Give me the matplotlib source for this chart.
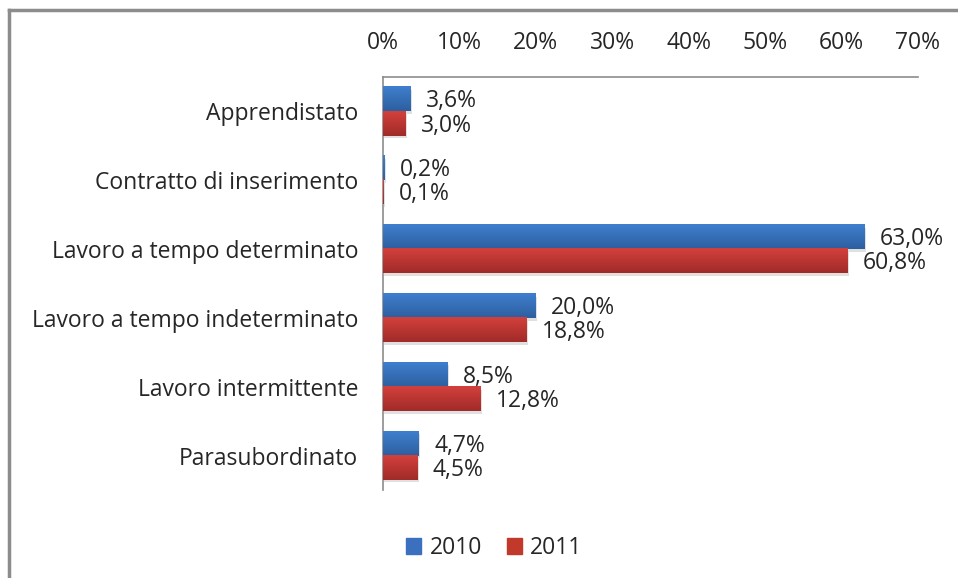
import numpy as np
import matplotlib.pyplot as plt
from matplotlib.colors import LinearSegmentedColormap
from matplotlib.lines import Line2D
from matplotlib.patches import Rectangle

plt.rcParams['font.family'] = ['Open Sans', 'DejaVu Sans']

# data
categorie = ['Apprendistato', 'Contratto di inserimento', 'Lavoro a tempo determinato',
             'Lavoro a tempo indeterminato', 'Lavoro intermittente', 'Parasubordinato']
v2010 = [3.6, 0.2, 63.0, 20.0, 8.5, 4.7]
v2011 = [3.0, 0.1, 60.8, 18.8, 12.8, 4.5]
anni = ['2010', '2011']
xticks = [0, 10, 20, 30, 40, 50, 60, 70]

txt_col = '#262626'
fs = 16.5
blu = LinearSegmentedColormap.from_list('blu', ['#3f7fcf', '#2d5f9f'])
rosso = LinearSegmentedColormap.from_list('rosso', ['#d3403c', '#a02b29'])

fig = plt.figure(figsize=(9.58, 5.78), dpi=100)
ax = fig.add_axes([0.3998, 0.1522, 0.5584, 0.7146])

y = np.arange(len(categorie))
h = 0.35
grad = np.linspace(0, 1, 50).reshape(-1, 1)

def bars(vals, offs, cmap, solid):
    rects = ax.barh(y + offs, vals, height=h, color=solid, zorder=2)
    for r in rects:
        x0, y0 = r.get_x(), r.get_y()
        w, hh = r.get_width(), r.get_height()
        # small drop shadow
        ax.add_patch(Rectangle((x0 + 0.15, y0 + 0.04), w, hh, color='#000000',
                               alpha=0.12, zorder=1, lw=0))
        ax.imshow(grad, extent=[x0, x0 + w, y0 + hh, y0], cmap=cmap,
                  aspect='auto', zorder=3, interpolation='bilinear')
    return rects

b1 = bars(v2010, -h / 2, blu, '#3a70bd')
b2 = bars(v2011, h / 2, rosso, '#c0392b')

for vals, offs in [(v2010, -h / 2), (v2011, h / 2)]:
    for yi, v in zip(y, vals):
        ax.annotate(f'{v:.1f}%'.replace('.', ','), (v, yi + offs + 0.03),
                    xytext=(11, 0), textcoords='offset points',
                    ha='left', va='center', fontsize=fs, color=txt_col)

ax.set_xlim(0, 70)
ax.set_ylim(len(categorie) - 0.5, -0.5)
ax.xaxis.tick_top()
ax.set_xticks(xticks)
ax.set_xticklabels([f'{t}%' for t in xticks])
ax.set_yticks(y)
ax.set_yticklabels(categorie)
ax.tick_params(axis='x', length=0, pad=16, labelsize=fs, colors=txt_col)
ax.tick_params(axis='y', length=0, pad=18, labelsize=fs, colors=txt_col)
for s in ['right', 'bottom']:
    ax.spines[s].set_visible(False)
for s in ['top', 'left']:
    ax.spines[s].set_color('#8c8c8c')
    ax.spines[s].set_linewidth(1.2)

handles = [Rectangle((0, 0), 1, 1, color='#3a70bd'), Rectangle((0, 0), 1, 1, color='#c0392b')]
fig.legend(handles, anni, loc='center', bbox_to_anchor=(0.516, 0.052), ncol=2,
           frameon=False, fontsize=fs, handlelength=0.65, handleheight=0.65,
           handletextpad=0.35, columnspacing=1.1, labelcolor=txt_col)

# chart frame (only top and left visible)
fig.add_artist(Line2D([0.0094, 0.0094], [0, 1 - 10 / 578], color='#8c8c8c', lw=2.5,
                      transform=fig.transFigure))
fig.add_artist(Line2D([0.0094, 1], [1 - 10 / 578, 1 - 10 / 578], color='#8c8c8c', lw=2.5,
                      transform=fig.transFigure))

plt.savefig('out.png', dpi=100)
